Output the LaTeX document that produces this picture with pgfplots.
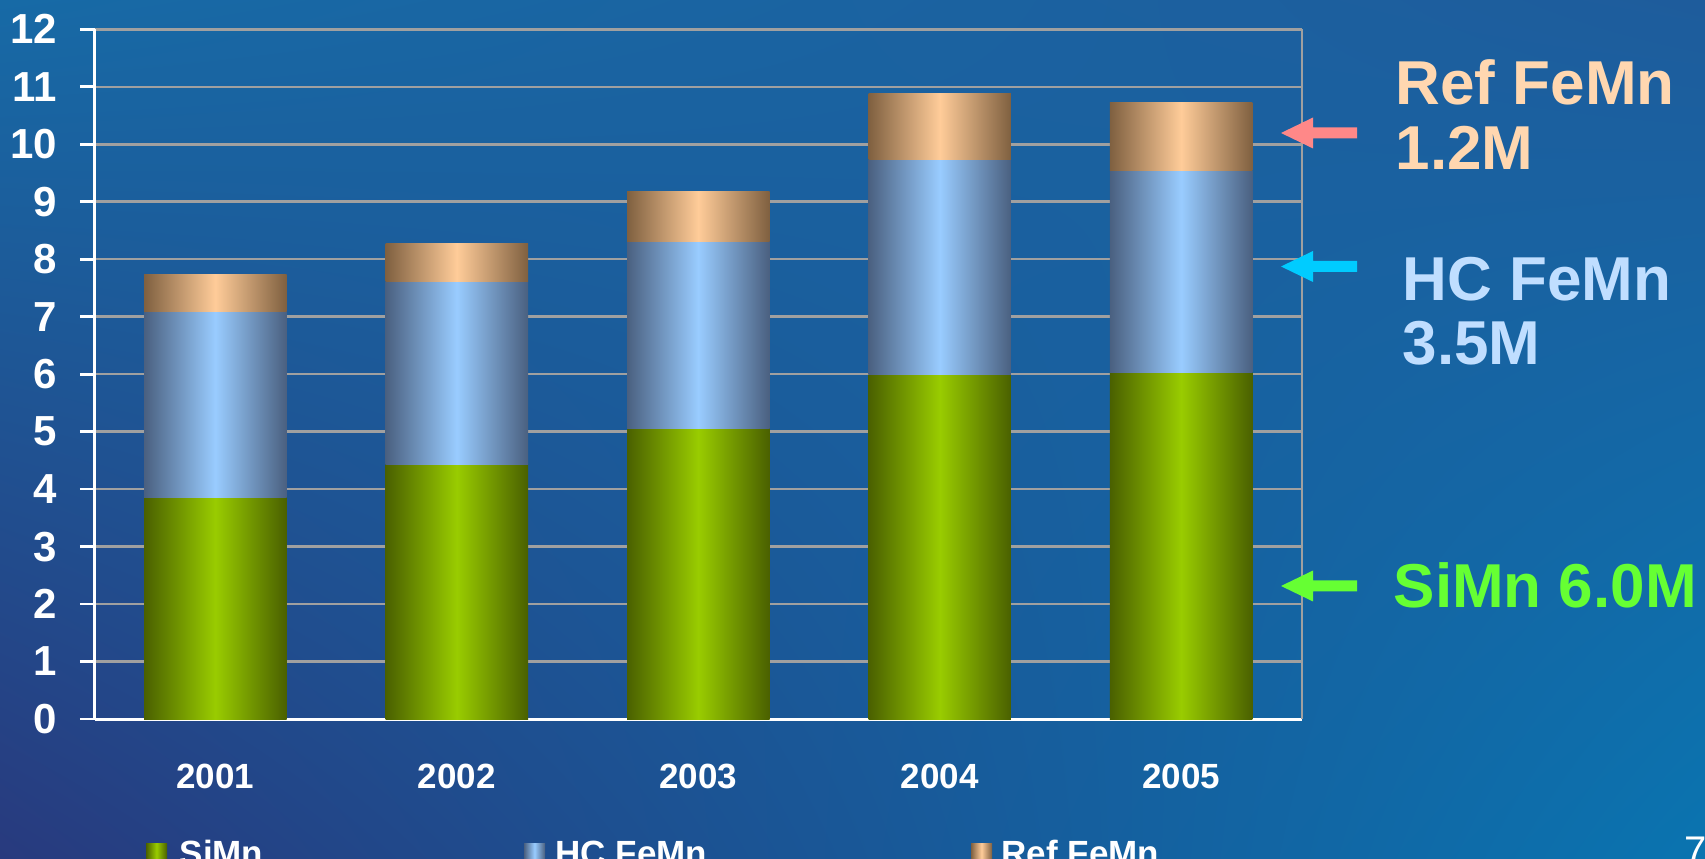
\documentclass[border=0pt]{standalone}
\usepackage{pgfplots}
\pgfplotsset{compat=1.18}
\usetikzlibrary{shadings}
\usepackage{fontspec}
\setmainfont{Liberation Sans}
\definecolor{bgUL}{HTML}{176AA6}
\definecolor{bgUR}{HTML}{1E5C9C}
\definecolor{bgLL}{HTML}{283A7E}
\definecolor{bgLR}{HTML}{0A74B0}
\definecolor{siD}{HTML}{4A6000}
\definecolor{siL}{HTML}{99CC00}
\definecolor{hcD}{HTML}{4A6080}
\definecolor{hcL}{HTML}{99CCFF}
\definecolor{rfD}{HTML}{7F6040}
\definecolor{rfL}{HTML}{FFCC99}
\definecolor{gridc}{HTML}{A0A0A0}
\definecolor{refTxt}{HTML}{FFD7B0}
\definecolor{hcTxt}{HTML}{C0DEFF}
\definecolor{siTxt}{HTML}{66FF33}
\definecolor{refArr}{HTML}{FF8888}
\definecolor{hcArr}{HTML}{00CCFF}
\definecolor{siArr}{HTML}{66FF33}
% stacked values: SiMn, HC FeMn, Ref FeMn per year; cumulative tops
% 2001: 3.85 3.24 0.64 -> 3.85 7.09 7.73
% 2002: 4.42 3.20 0.66 -> 4.42 7.62 8.28
% 2003: 5.06 3.25 0.87 -> 5.06 8.31 9.18
% 2004: 5.99 3.74 1.15 -> 5.99 9.73 10.88
% 2005: 6.03 3.51 1.19 -> 6.03 9.54 10.73
\tikzset{
  siS/.style={draw=none, left color=siD, right color=siD, middle color=siL},
  hcS/.style={draw=none, left color=hcD, right color=hcD, middle color=hcL},
  rfS/.style={draw=none, left color=rfD, right color=rfD, middle color=rfL},
}
\begin{document}
\begin{tikzpicture}
\useasboundingbox (0,0) rectangle (511.5pt,257.4pt);
\clip (0,0) rectangle (511.5pt,257.4pt);
\begin{scope}[x=0.3pt,y=0.3pt]
\shade[upper left=bgUL, upper right=bgUR, lower left=bgLL, lower right=bgLR] (0,0) rectangle (1705,858);
\end{scope}
\begin{axis}[
  scale only axis,
  width=362.2pt, height=206.9pt,
  at={(28.38pt,41.7pt)}, anchor=south west,
  xmin=0.5, xmax=5.5, ymin=0, ymax=12,
  axis x line=bottom, axis y line=left,
  axis line style={white, line width=0.9pt, -},
  xtick={1,2,3,4,5},
  xticklabels={2001,2002,2003,2004,2005},
  major x tick style={draw=none},
  extra x ticks={0.5,1.5,2.5,3.5,4.5,5.5},
  extra x tick labels={},
  extra x tick style={major tick length=3.8pt, tick align=outside, tick style={white, line width=0.8pt}, grid=none},
  ytick={0,1,...,12},
  ymajorgrids,
  major grid style={gridc, line width=0.75pt},
  ytick align=outside,
  major tick length=4.4pt,
  tick style={white, line width=0.8pt},
  /pgf/number format/assume math mode=true,
  yticklabel style={font=\fontsize{12.6}{12.6}\selectfont\bfseries, text=white, inner sep=0pt, anchor=east},
  yticklabel shift=6.6pt,
  xticklabel style={font=\fontsize{10.5}{10.5}\selectfont\bfseries, text=white, inner sep=0pt, anchor=north},
  xticklabel shift=11pt,
  clip=false,
]
% SiMn
\addplot[siS] coordinates {(0.705,0) (1.295,0) (1.295,3.85) (0.705,3.85)};
\addplot[siS] coordinates {(1.705,0) (2.295,0) (2.295,4.42) (1.705,4.42)};
\addplot[siS] coordinates {(2.705,0) (3.295,0) (3.295,5.06) (2.705,5.06)};
\addplot[siS] coordinates {(3.705,0) (4.295,0) (4.295,5.99) (3.705,5.99)};
\addplot[siS] coordinates {(4.705,0) (5.295,0) (5.295,6.03) (4.705,6.03)};
% HC FeMn
\addplot[hcS] coordinates {(0.705,3.85) (1.295,3.85) (1.295,7.09) (0.705,7.09)};
\addplot[hcS] coordinates {(1.705,4.42) (2.295,4.42) (2.295,7.62) (1.705,7.62)};
\addplot[hcS] coordinates {(2.705,5.06) (3.295,5.06) (3.295,8.31) (2.705,8.31)};
\addplot[hcS] coordinates {(3.705,5.99) (4.295,5.99) (4.295,9.73) (3.705,9.73)};
\addplot[hcS] coordinates {(4.705,6.03) (5.295,6.03) (5.295,9.54) (4.705,9.54)};
% Ref FeMn
\addplot[rfS] coordinates {(0.705,7.09) (1.295,7.09) (1.295,7.73) (0.705,7.73)};
\addplot[rfS] coordinates {(1.705,7.62) (2.295,7.62) (2.295,8.28) (1.705,8.28)};
\addplot[rfS] coordinates {(2.705,8.31) (3.295,8.31) (3.295,9.18) (2.705,9.18)};
\addplot[rfS] coordinates {(3.705,9.73) (4.295,9.73) (4.295,10.88) (3.705,10.88)};
\addplot[rfS] coordinates {(4.705,9.54) (5.295,9.54) (5.295,10.73) (4.705,10.73)};
\draw[gridc, line width=0.75pt] (axis cs:5.5,0) -- (axis cs:5.5,12);
\end{axis}
\begin{scope}[x=0.3pt,y=0.3pt]
% annotations
\fill[refArr] (1357,719.5) -- (1313,719.5) -- (1313,709.5) -- (1281,725) -- (1313,740.5) -- (1313,730.5) -- (1357,730.5) -- cycle;
\fill[hcArr] (1357,586) -- (1313,586) -- (1313,576) -- (1281,591.5) -- (1313,607) -- (1313,597) -- (1357,597) -- cycle;
\fill[siArr] (1357,266.5) -- (1313,266.5) -- (1313,256.5) -- (1281,272) -- (1313,287.5) -- (1313,277.5) -- (1357,277.5) -- cycle;
\tikzset{ann/.style={anchor=base west, inner sep=0pt, font=\fontsize{18.6}{18.6}\selectfont\bfseries}}
\node[ann, text=refTxt] at (1395,753) {Ref FeMn};
\node[ann, text=refTxt] at (1395,688) {1.2M};
\node[ann, text=hcTxt] at (1402,557) {HC FeMn};
\node[ann, text=hcTxt] at (1402,493) {3.5M};
\node[ann, text=siTxt] at (1393,250) {SiMn 6.0M};
% legend
\shade[siS] (146,-10) rectangle (167,15);
\shade[hcS] (524,-10) rectangle (545,15);
\shade[rfS] (971,-10) rectangle (992,15);
\tikzset{leg/.style={anchor=base west, inner sep=0pt, text=white, font=\fontsize{10.5}{10.5}\selectfont\bfseries}}
\node[leg] at (179,-7) {SiMn};
\node[leg] at (555,-7) {HC FeMn};
\node[leg] at (1001,-7) {Ref FeMn};
\node[anchor=base west, inner sep=0pt, text=white, font=\fontsize{12}{12}\selectfont] at (1684,-6) {7};
\end{scope}
\end{tikzpicture}
\end{document}
